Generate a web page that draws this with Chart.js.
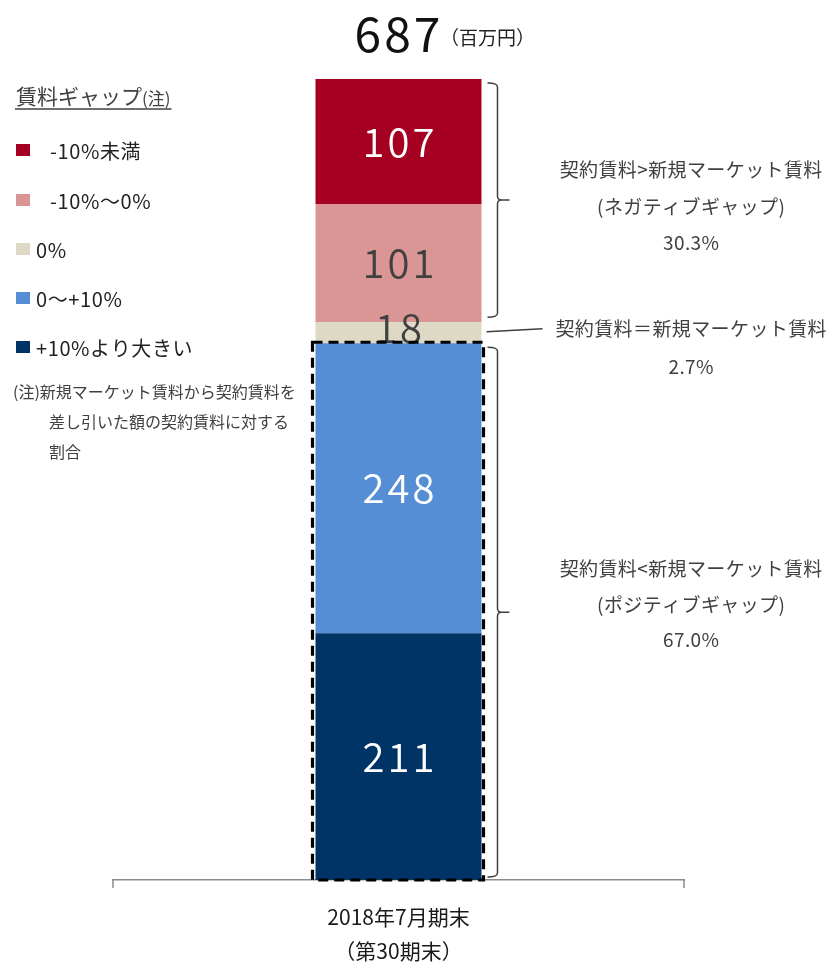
<!DOCTYPE html>
<html><head><meta charset="utf-8">
<script src="https://cdn.jsdelivr.net/npm/chart.js@4"></script>
<style>html,body{margin:0;padding:0;background:#fff}canvas{display:block}</style>
</head><body>
<canvas id="c" width="834" height="964"></canvas>
<script>
// ---- data ----
const categories = [['2018年7月期末', '（第30期末）']];
const seriesLabels = ['+10%より大きい', '0～+10%', '0%', '-10%～0%', '-10%未満'];
const seriesValues = [211, 248, 18, 101, 107];
const seriesColors = ['#003366', '#558ED5', '#DDD9C4', '#DA9694', '#A50021'];
const valueLabelColors = ['#ffffff', '#ffffff', '#404040', '#404040', '#ffffff'];
const totalLabel = 687;
const totalUnit = '（百万円）';
const legendTitle = '賃料ギャップ';
const legendTitleNote = '(注)';
const noteLines = ['(注)新規マーケット賃料から契約賃料を', '差し引いた額の契約賃料に対する', '割合'];
const negativeText = ['契約賃料>新規マーケット賃料', '(ネガティブギャップ)', '30.3%'];
const zeroText = ['契約賃料＝新規マーケット賃料', '2.7%'];
const positiveText = ['契約賃料<新規マーケット賃料', '(ポジティブギャップ)', '67.0%'];

const FONT = '"Noto Sans CJK JP", "Noto Sans", sans-serif';
const TEXT = '#404040';
const stackSum = seriesValues.reduce((a, b) => a + b, 0);

function brace(ctx, xv, top, bottom, hook, tip) {
  const mid = (top + bottom) / 2, r = 4;
  ctx.beginPath();
  ctx.moveTo(xv - hook, top);
  ctx.quadraticCurveTo(xv, top, xv, top + r);
  ctx.lineTo(xv, mid - r);
  ctx.quadraticCurveTo(xv, mid, xv + r, mid);
  ctx.lineTo(xv + tip, mid);
  ctx.moveTo(xv + r, mid);
  ctx.quadraticCurveTo(xv, mid, xv, mid + r);
  ctx.lineTo(xv, bottom - r);
  ctx.quadraticCurveTo(xv, bottom, xv - hook, bottom);
  ctx.stroke();
}

function spaced(ctx, text, x, y, sp) {
  ctx.letterSpacing = sp + 'px';
  const off = ctx.textAlign === 'center' ? sp / 2 : 0;
  ctx.fillText(text, x + off, y);
  ctx.letterSpacing = '0px';
}

function lines(ctx, arr, x, ys, sp) {
  arr.forEach((t, i) => spaced(ctx, t, x, ys[i], sp));
}

const annot = {
  id: 'annot',
  afterDraw(chart) {
    const ctx = chart.ctx, ys = chart.scales.y, ca = chart.chartArea;
    const bars = chart.data.datasets.map((d, i) => chart.getDatasetMeta(i).data[0]);
    const b0 = bars[0];
    const left = b0.x - b0.width / 2, right = b0.x + b0.width / 2;
    ctx.save();

    // axis end ticks
    ctx.strokeStyle = '#8c8c8c'; ctx.lineWidth = 1.5;
    ctx.beginPath();
    ctx.moveTo(ca.left, ca.bottom); ctx.lineTo(ca.left, ca.bottom + 8);
    ctx.moveTo(ca.right, ca.bottom); ctx.lineTo(ca.right, ca.bottom + 8);
    ctx.stroke();

    // value labels
    ctx.textAlign = 'center'; ctx.textBaseline = 'middle';
    ctx.font = '350 40px ' + FONT;
    bars.forEach((bar, i) => {
      const cy = (bar.y + bar.base) / 2 + (seriesValues[i] < 30 ? -5 : 0);
      ctx.fillStyle = valueLabelColors[i];
      spaced(ctx, String(seriesValues[i]), bar.x, cy, 3);
    });

    // dashed box around positive gap
    const posTop = ys.getPixelForValue(seriesValues[0] + seriesValues[1]);
    const zero = ys.getPixelForValue(0);
    ctx.setLineDash([10, 6]); ctx.lineWidth = 3.2; ctx.strokeStyle = '#000';
    ctx.strokeRect(left - 3, posTop - 1, right - left + 5, zero - posTop + 1);
    ctx.setLineDash([]);

    // braces
    ctx.strokeStyle = '#404040'; ctx.lineWidth = 1.5;
    const negBottom = ys.getPixelForValue(seriesValues[0] + seriesValues[1] + seriesValues[2]);
    const topPx = ys.getPixelForValue(stackSum);
    brace(ctx, right + 16, topPx + 4, negBottom - 5, 10, 12);
    brace(ctx, right + 16, posTop + 4, zero - 3, 10, 12);
    // leader line for 0%
    const zc = (bars[2].y + bars[2].base) / 2;
    ctx.beginPath(); ctx.moveTo(right + 5, zc - 1); ctx.lineTo(right + 61, zc - 4); ctx.stroke();

    // right texts
    ctx.fillStyle = TEXT; ctx.font = '19px ' + FONT; ctx.textAlign = 'center';
    lines(ctx, negativeText, 691, [170, 207, 243], 0.4);
    lines(ctx, zeroText, 691, [329, 367], 0.4);
    lines(ctx, positiveText, 691, [569, 605, 640], 0.4);

    // total
    ctx.fillStyle = '#111'; ctx.textBaseline = 'alphabetic';
    ctx.font = '48px ' + FONT;
    spaced(ctx, String(totalLabel), b0.x - 1, 52, 3);
    ctx.textAlign = 'left'; ctx.font = '19px ' + FONT; ctx.fillStyle = '#222';
    ctx.fillText(totalUnit, 440, 45);

    // legend title
    ctx.textBaseline = 'middle'; ctx.fillStyle = TEXT;
    ctx.font = '21px ' + FONT;
    ctx.fillText(legendTitle, 16, 96);
    const tw = ctx.measureText(legendTitle).width;
    ctx.font = '17px ' + FONT;
    ctx.fillText(legendTitleNote, 16 + tw, 99);
    const tw2 = ctx.measureText(legendTitleNote).width;
    ctx.beginPath(); ctx.moveTo(15, 109); ctx.lineTo(17 + tw + tw2, 109); ctx.stroke();

    // legend items (top-down = reverse of stack)
    const legYs = [150, 200, 249, 298, 347];
    ctx.font = '20px ' + FONT;
    for (let k = 0; k < seriesLabels.length; k++) {
      const i = seriesLabels.length - 1 - k;
      ctx.fillStyle = seriesColors[i];
      ctx.fillRect(16, legYs[k] - 6, 14, 12);
      ctx.fillStyle = '#222';
      const lx = seriesLabels[i].startsWith('-') ? 50 : 36;
      spaced(ctx, seriesLabels[i], lx, legYs[k] + 1, 0.6);
    }

    // note
    ctx.font = '16px ' + FONT; ctx.fillStyle = TEXT;
    ctx.fillText(noteLines[0], 13, 392);
    ctx.fillText(noteLines[1], 49, 422);
    ctx.fillText(noteLines[2], 49, 452);
    ctx.restore();
  }
};

new Chart(document.getElementById('c'), {
  type: 'bar',
  data: {
    labels: categories,
    datasets: seriesLabels.map((l, i) => ({
      label: l,
      data: [seriesValues[i]],
      backgroundColor: seriesColors[i],
      borderWidth: 0,
      barPercentage: 0.2907,
      categoryPercentage: 1
    }))
  },
  options: {
    responsive: false,
    animation: false,
    events: [],
    layout: { padding: { left: 113, right: 150, top: 79, bottom: 0 } },
    plugins: { legend: { display: false }, tooltip: { enabled: false } },
    scales: {
      x: {
        stacked: true,
        grid: { display: false, drawTicks: false },
        border: { display: true, color: '#8c8c8c', width: 1.5 },
        ticks: { color: '#1a1a1a', padding: 20, maxRotation: 0, autoSkip: false,
                 font: { family: FONT, size: 21, lineHeight: '34px' } },
        afterFit(scale) { scale.height = 84; }
      },
      y: { stacked: true, display: false, min: 0, max: stackSum }
    }
  },
  plugins: [annot]
});
</script>
</body></html>
